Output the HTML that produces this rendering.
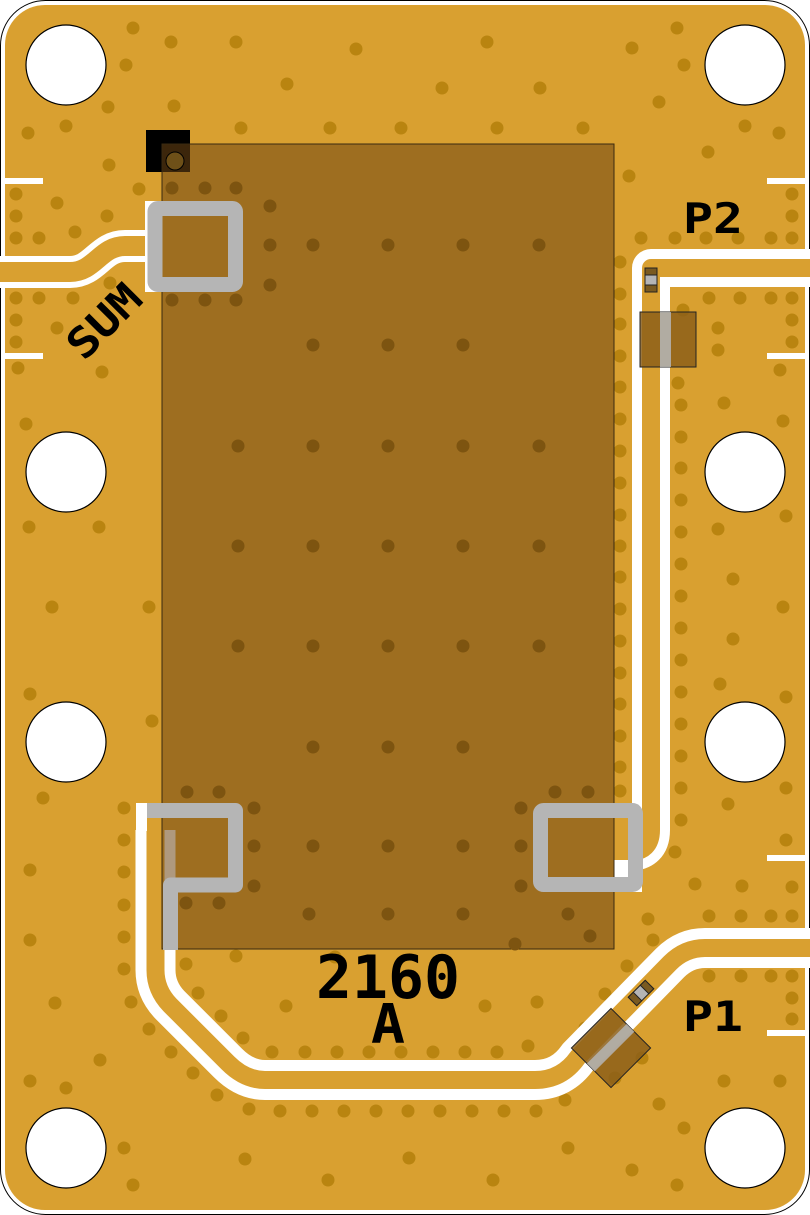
<!DOCTYPE html>
<html><head><meta charset="utf-8"><style>
html,body{margin:0;padding:0;background:#fff;}
svg{display:block;}
text{font-family:"DejaVu Sans Mono","Liberation Mono",monospace;font-weight:bold;fill:#000;}
</style></head><body>
<svg width="810" height="1215" viewBox="0 0 810 1215" xmlns="http://www.w3.org/2000/svg">
<rect x="0.5" y="0.5" width="809" height="1214" rx="45" fill="#fff" stroke="#000" stroke-width="1"/>
<rect x="5" y="5" width="800" height="1205" rx="40" fill="#D9A030"/>

<g fill="#B98410">
<circle cx="133" cy="28" r="6.5"/><circle cx="171" cy="42" r="6.5"/><circle cx="236" cy="42" r="6.5"/><circle cx="356" cy="49" r="6.5"/><circle cx="487" cy="42" r="6.5"/><circle cx="632" cy="48" r="6.5"/><circle cx="677" cy="28" r="6.5"/><circle cx="126" cy="65" r="6.5"/><circle cx="287" cy="84" r="6.5"/><circle cx="442" cy="88" r="6.5"/><circle cx="540" cy="88" r="6.5"/><circle cx="684" cy="65" r="6.5"/><circle cx="659" cy="102" r="6.5"/><circle cx="108" cy="107" r="6.5"/><circle cx="174" cy="106" r="6.5"/><circle cx="28" cy="133" r="6.5"/><circle cx="66" cy="126" r="6.5"/><circle cx="241" cy="128" r="6.5"/><circle cx="330" cy="128" r="6.5"/><circle cx="401" cy="128" r="6.5"/><circle cx="497" cy="128" r="6.5"/><circle cx="583" cy="128" r="6.5"/><circle cx="745" cy="126" r="6.5"/><circle cx="779" cy="133" r="6.5"/><circle cx="708" cy="152" r="6.5"/><circle cx="109" cy="165" r="6.5"/><circle cx="629" cy="176" r="6.5"/>
<circle cx="16" cy="194" r="6.5"/><circle cx="57" cy="203" r="6.5"/><circle cx="139" cy="189" r="6.5"/><circle cx="16" cy="216" r="6.5"/><circle cx="16" cy="238" r="6.5"/><circle cx="39" cy="238" r="6.5"/><circle cx="75" cy="232" r="6.5"/><circle cx="107" cy="216" r="6.5"/>
<circle cx="792" cy="194" r="6.5"/><circle cx="792" cy="216" r="6.5"/><circle cx="792" cy="238" r="6.5"/><circle cx="771" cy="238" r="6.5"/><circle cx="641" cy="238" r="6.5"/><circle cx="675" cy="238" r="6.5"/><circle cx="706" cy="238" r="6.5"/><circle cx="738" cy="238" r="6.5"/>
<circle cx="16" cy="298" r="6.5"/><circle cx="39" cy="298" r="6.5"/><circle cx="73" cy="298" r="6.5"/><circle cx="110" cy="283" r="6.5"/><circle cx="16" cy="320" r="6.5"/><circle cx="16" cy="342" r="6.5"/><circle cx="57" cy="328" r="6.5"/><circle cx="102" cy="372" r="6.5"/><circle cx="18" cy="368" r="6.5"/>
<circle cx="709" cy="298" r="6.5"/><circle cx="740" cy="298" r="6.5"/><circle cx="771" cy="298" r="6.5"/><circle cx="792" cy="298" r="6.5"/><circle cx="792" cy="320" r="6.5"/><circle cx="792" cy="342" r="6.5"/><circle cx="718" cy="328" r="6.5"/><circle cx="718" cy="350" r="6.5"/><circle cx="780" cy="370" r="6.5"/><circle cx="683" cy="310" r="6.5"/>
<circle cx="26" cy="424" r="6.5"/><circle cx="29" cy="527" r="6.5"/><circle cx="99" cy="527" r="6.5"/><circle cx="52" cy="607" r="6.5"/><circle cx="149" cy="607" r="6.5"/><circle cx="30" cy="694" r="6.5"/><circle cx="152" cy="721" r="6.5"/><circle cx="43" cy="798" r="6.5"/><circle cx="124" cy="808" r="6.5"/>
<circle cx="724" cy="403" r="6.5"/><circle cx="783" cy="421" r="6.5"/><circle cx="718" cy="529" r="6.5"/><circle cx="786" cy="516" r="6.5"/><circle cx="733" cy="579" r="6.5"/><circle cx="783" cy="607" r="6.5"/><circle cx="733" cy="639" r="6.5"/><circle cx="720" cy="684" r="6.5"/><circle cx="786" cy="697" r="6.5"/><circle cx="786" cy="788" r="6.5"/><circle cx="728" cy="804" r="6.5"/>
<circle cx="620" cy="387" r="6.5"/><circle cx="620" cy="419" r="6.5"/><circle cx="620" cy="451" r="6.5"/><circle cx="620" cy="483" r="6.5"/><circle cx="620" cy="515" r="6.5"/><circle cx="620" cy="546" r="6.5"/><circle cx="620" cy="577" r="6.5"/><circle cx="620" cy="609" r="6.5"/><circle cx="620" cy="641" r="6.5"/><circle cx="620" cy="673" r="6.5"/><circle cx="620" cy="704" r="6.5"/><circle cx="620" cy="736" r="6.5"/><circle cx="620" cy="767" r="6.5"/><circle cx="620" cy="791" r="6.5"/><circle cx="620" cy="294" r="6.5"/><circle cx="620" cy="324" r="6.5"/><circle cx="620" cy="356" r="6.5"/><circle cx="620" cy="262" r="6.5"/>
<circle cx="681" cy="405" r="6.5"/><circle cx="681" cy="437" r="6.5"/><circle cx="681" cy="468" r="6.5"/><circle cx="681" cy="500" r="6.5"/><circle cx="681" cy="532" r="6.5"/><circle cx="681" cy="564" r="6.5"/><circle cx="681" cy="596" r="6.5"/><circle cx="681" cy="628" r="6.5"/><circle cx="681" cy="660" r="6.5"/><circle cx="681" cy="692" r="6.5"/><circle cx="681" cy="724" r="6.5"/><circle cx="681" cy="756" r="6.5"/><circle cx="681" cy="788" r="6.5"/><circle cx="681" cy="820" r="6.5"/><circle cx="675" cy="852" r="6.5"/><circle cx="678" cy="383" r="6.5"/>
<circle cx="124" cy="840" r="6.5"/><circle cx="124" cy="872" r="6.5"/><circle cx="124" cy="905" r="6.5"/><circle cx="124" cy="937" r="6.5"/><circle cx="124" cy="969" r="6.5"/><circle cx="131" cy="1002" r="6.5"/><circle cx="149" cy="1029" r="6.5"/><circle cx="171" cy="1052" r="6.5"/><circle cx="193" cy="1073" r="6.5"/><circle cx="217" cy="1095" r="6.5"/><circle cx="249" cy="1109" r="6.5"/><circle cx="280" cy="1111" r="6.5"/><circle cx="312" cy="1111" r="6.5"/><circle cx="344" cy="1111" r="6.5"/><circle cx="376" cy="1111" r="6.5"/><circle cx="408" cy="1111" r="6.5"/><circle cx="440" cy="1111" r="6.5"/><circle cx="472" cy="1111" r="6.5"/><circle cx="504" cy="1111" r="6.5"/><circle cx="536" cy="1111" r="6.5"/><circle cx="565" cy="1100" r="6.5"/>
<circle cx="186" cy="964" r="6.5"/><circle cx="198" cy="993" r="6.5"/><circle cx="221" cy="1016" r="6.5"/><circle cx="243" cy="1038" r="6.5"/><circle cx="272" cy="1052" r="6.5"/><circle cx="305" cy="1052" r="6.5"/><circle cx="337" cy="1052" r="6.5"/><circle cx="369" cy="1052" r="6.5"/><circle cx="401" cy="1052" r="6.5"/><circle cx="433" cy="1052" r="6.5"/><circle cx="465" cy="1052" r="6.5"/><circle cx="497" cy="1052" r="6.5"/><circle cx="528" cy="1046" r="6.5"/><circle cx="236" cy="956" r="6.5"/><circle cx="286" cy="1006" r="6.5"/><circle cx="335" cy="957" r="6.5"/><circle cx="485" cy="1006" r="6.5"/><circle cx="537" cy="1002" r="6.5"/><circle cx="605" cy="994" r="6.5"/><circle cx="627" cy="966" r="6.5"/><circle cx="653" cy="940" r="6.5"/><circle cx="648" cy="919" r="6.5"/><circle cx="695" cy="884" r="6.5"/><circle cx="585" cy="1028" r="6.5"/>
<circle cx="30" cy="940" r="6.5"/><circle cx="55" cy="1003" r="6.5"/><circle cx="30" cy="1081" r="6.5"/><circle cx="66" cy="1088" r="6.5"/><circle cx="100" cy="1060" r="6.5"/><circle cx="30" cy="870" r="6.5"/><circle cx="124" cy="1148" r="6.5"/><circle cx="133" cy="1185" r="6.5"/><circle cx="245" cy="1159" r="6.5"/><circle cx="328" cy="1180" r="6.5"/><circle cx="409" cy="1158" r="6.5"/><circle cx="493" cy="1180" r="6.5"/><circle cx="568" cy="1148" r="6.5"/><circle cx="632" cy="1170" r="6.5"/><circle cx="677" cy="1185" r="6.5"/><circle cx="684" cy="1128" r="6.5"/><circle cx="780" cy="1081" r="6.5"/><circle cx="724" cy="1081" r="6.5"/><circle cx="659" cy="1104" r="6.5"/><circle cx="642" cy="1058" r="6.5"/><circle cx="615" cy="1078" r="6.5"/>
<circle cx="709" cy="916" r="6.5"/><circle cx="741" cy="916" r="6.5"/><circle cx="771" cy="916" r="6.5"/><circle cx="792" cy="916" r="6.5"/><circle cx="792" cy="887" r="6.5"/><circle cx="786" cy="840" r="6.5"/><circle cx="742" cy="886" r="6.5"/><circle cx="709" cy="976" r="6.5"/><circle cx="741" cy="976" r="6.5"/><circle cx="771" cy="976" r="6.5"/><circle cx="792" cy="976" r="6.5"/><circle cx="792" cy="998" r="6.5"/><circle cx="792" cy="1019" r="6.5"/>
</g>

<g fill="#fff">
<rect x="5" y="178" width="38" height="6"/><rect x="5" y="353" width="38" height="6"/>
<rect x="767" y="178" width="38" height="6"/><rect x="767" y="353" width="38" height="6"/>
<rect x="767" y="855" width="38" height="6"/><rect x="767" y="1030" width="38" height="6"/>
</g>

<g fill="none" stroke-linejoin="round">
<path d="M0,272 L70,272 C95,272 100,246 125,246 L160,246" stroke="#fff" stroke-width="32"/>
<path d="M0,272 L70,272 C95,272 100,246 125,246 L160,246" stroke="#D9A030" stroke-width="20"/>
<path d="M810,268 L651,268 L651,830 Q651,852 629,852 L614,852" stroke="#fff" stroke-width="38"/>
<path d="M810,268 L651,268 L651,830 Q651,852 629,852 L614,852" stroke="#D9A030" stroke-width="18"/>
<path d="M810,948 L705,948 Q685,948 670,963 L578,1057 Q562,1080 535,1080 L265,1080 Q245,1080 228,1063 L170,1005 Q155.5,990 155.5,970 L155.5,830" stroke="#fff" stroke-width="40"/>
<path d="M810,948 L705,948 Q685,948 670,963 L578,1057 Q562,1080 535,1080 L265,1080 Q245,1080 228,1063 L170,1005 Q155.5,990 155.5,970 L155.5,830" stroke="#D9A030" stroke-width="18"/>
</g>
<rect x="145" y="201" width="17" height="91" fill="#fff"/>
<rect x="136" y="803" width="26" height="28" fill="#fff"/>
<rect x="147" y="818" width="15" height="14" fill="#D9A030"/>
<rect x="614" y="803" width="28" height="89" fill="#fff"/>
<path d="M614,818 L630,818 L630,835 Q642,835 642,847 L642,852 Q642,860 632,860 L614,860 Z" fill="#D9A030"/>

<rect x="146" y="130" width="44" height="42" fill="#000"/>

<rect x="162" y="144" width="452" height="805" fill="rgba(110,70,20,0.55)" stroke="#3a2a10" stroke-width="1"/>
<circle cx="175" cy="161" r="9" fill="#6e5018" stroke="#000" stroke-width="1"/>
<g fill="#7d5410">
<circle cx="172" cy="188" r="6.5"/><circle cx="205" cy="188" r="6.5"/><circle cx="236" cy="188" r="6.5"/><circle cx="270" cy="206" r="6.5"/>
<circle cx="270" cy="245" r="6.5"/><circle cx="313" cy="245" r="6.5"/><circle cx="388" cy="245" r="6.5"/><circle cx="463" cy="245" r="6.5"/><circle cx="539" cy="245" r="6.5"/><circle cx="270" cy="285" r="6.5"/>
<circle cx="172" cy="300" r="6.5"/><circle cx="205" cy="300" r="6.5"/><circle cx="236" cy="300" r="6.5"/>
<circle cx="313" cy="345" r="6.5"/><circle cx="388" cy="345" r="6.5"/><circle cx="463" cy="345" r="6.5"/>
<circle cx="238" cy="446" r="6.5"/><circle cx="313" cy="446" r="6.5"/><circle cx="388" cy="446" r="6.5"/><circle cx="463" cy="446" r="6.5"/><circle cx="539" cy="446" r="6.5"/>
<circle cx="238" cy="546" r="6.5"/><circle cx="313" cy="546" r="6.5"/><circle cx="388" cy="546" r="6.5"/><circle cx="463" cy="546" r="6.5"/><circle cx="539" cy="546" r="6.5"/>
<circle cx="238" cy="646" r="6.5"/><circle cx="313" cy="646" r="6.5"/><circle cx="388" cy="646" r="6.5"/><circle cx="463" cy="646" r="6.5"/><circle cx="539" cy="646" r="6.5"/>
<circle cx="313" cy="747" r="6.5"/><circle cx="388" cy="747" r="6.5"/><circle cx="463" cy="747" r="6.5"/>
<circle cx="187" cy="792" r="6.5"/><circle cx="219" cy="792" r="6.5"/><circle cx="555" cy="792" r="6.5"/><circle cx="588" cy="792" r="6.5"/><circle cx="254" cy="808" r="6.5"/><circle cx="521" cy="808" r="6.5"/>
<circle cx="254" cy="846" r="6.5"/><circle cx="313" cy="846" r="6.5"/><circle cx="388" cy="846" r="6.5"/><circle cx="463" cy="846" r="6.5"/><circle cx="521" cy="846" r="6.5"/>
<circle cx="186" cy="903" r="6.5"/><circle cx="219" cy="903" r="6.5"/><circle cx="254" cy="886" r="6.5"/><circle cx="521" cy="886" r="6.5"/><circle cx="309" cy="914" r="6.5"/><circle cx="388" cy="914" r="6.5"/><circle cx="463" cy="914" r="6.5"/><circle cx="568" cy="914" r="6.5"/><circle cx="590" cy="936" r="6.5"/><circle cx="515" cy="944" r="6.5"/>
</g>

<g fill="none" stroke="#B5B5B5" stroke-width="15">
<rect x="155" y="208.5" width="80.5" height="76" rx="3"/>
<rect x="540.5" y="810.5" width="95" height="74" rx="3"/>
</g>
<path d="M147,810.5 L235.5,810.5 L235.5,885 L170.5,885 L170.5,950" fill="none" stroke="#B5B5B5" stroke-width="15" stroke-linejoin="round"/>

<rect x="645" y="268" width="12" height="24" fill="#B5B5B5" stroke="#222" stroke-width="1"/>
<rect x="645" y="268" width="12" height="7" fill="#7a5a20" stroke="#222" stroke-width="1"/>
<rect x="645" y="285" width="12" height="7" fill="#7a5a20" stroke="#222" stroke-width="1"/>
<rect x="640" y="312" width="56" height="55" fill="rgba(140,95,25,0.85)" stroke="#222" stroke-width="1"/>
<rect x="660" y="312" width="11" height="55" fill="#B5B5B5" opacity="0.85"/>

<g transform="rotate(-45 641 993)">
<rect x="629" y="987" width="24" height="12" fill="#B5B5B5" stroke="#222" stroke-width="1"/>
<rect x="629" y="987" width="7" height="12" fill="#7a5a20" stroke="#222" stroke-width="1"/>
<rect x="646" y="987" width="7" height="12" fill="#7a5a20" stroke="#222" stroke-width="1"/>
</g>
<g transform="rotate(-45 611 1048)">
<rect x="583" y="1020" width="56" height="56" fill="rgba(140,95,25,0.85)" stroke="#222" stroke-width="1"/>
<rect x="583" y="1042" width="56" height="11" fill="#B5B5B5" opacity="0.85"/>
</g>

<g fill="#fff" stroke="#000" stroke-width="1.2">
<circle cx="66" cy="65" r="40"/><circle cx="745" cy="65" r="40"/>
<circle cx="66" cy="472" r="40"/><circle cx="745" cy="472" r="40"/>
<circle cx="66" cy="742" r="40"/><circle cx="745" cy="742" r="40"/>
<circle cx="66" cy="1148" r="40"/><circle cx="745" cy="1148" r="40"/>
</g>

<text x="683" y="233" font-size="42" textLength="60" lengthAdjust="spacingAndGlyphs">P2</text>
<text x="683" y="1031" font-size="42" textLength="60" lengthAdjust="spacingAndGlyphs">P1</text>
<text x="316" y="998" font-size="60" textLength="144" lengthAdjust="spacingAndGlyphs">2160</text>
<text x="371" y="1043" font-size="54" textLength="34" lengthAdjust="spacingAndGlyphs">A</text>
<text x="0" y="0" font-size="42" textLength="86" lengthAdjust="spacingAndGlyphs" transform="translate(84,362) rotate(-45)">SUM</text>
</svg>
</body></html>
